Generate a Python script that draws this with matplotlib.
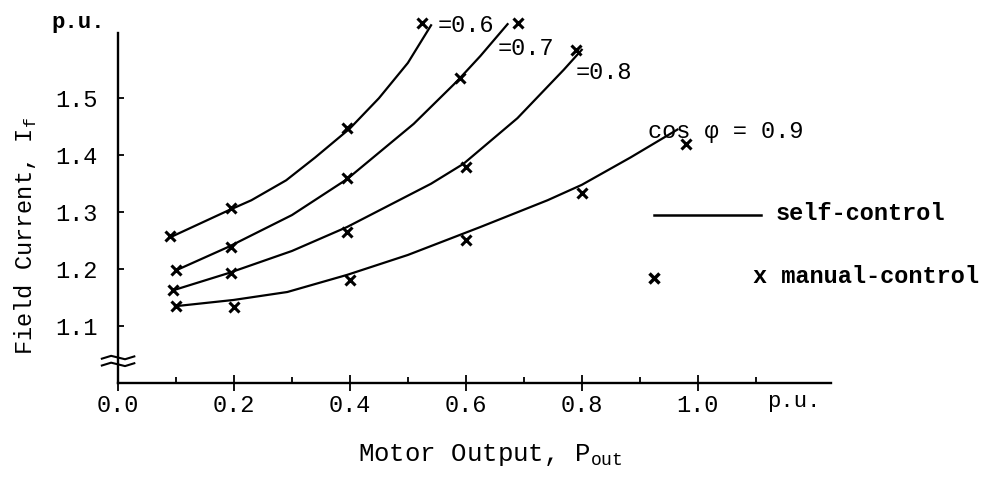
import matplotlib.pyplot as plt

# power factor labels
pf_labels = ["=0.6", "=0.7", "=0.8", "cos \u03c6 = 0.9"]
pf_label_x = [0.551, 0.655, 0.79, 0.915]
pf_label_y = [1.628, 1.588, 1.546, 1.442]

# self-control curves
self_x_06 = [0.09, 0.19, 0.23, 0.29, 0.34, 0.40, 0.45, 0.50, 0.54]
self_y_06 = [1.256, 1.303, 1.321, 1.356, 1.396, 1.447, 1.50, 1.562, 1.628]
self_x_07 = [0.10, 0.19, 0.30, 0.395, 0.51, 0.585, 0.625, 0.672]
self_y_07 = [1.198, 1.239, 1.295, 1.358, 1.455, 1.53, 1.574, 1.63]
self_x_08 = [0.095, 0.19, 0.30, 0.395, 0.54, 0.596, 0.689, 0.769, 0.80]
self_y_08 = [1.163, 1.193, 1.232, 1.274, 1.350, 1.385, 1.465, 1.55, 1.585]
self_x_09 = [0.098, 0.199, 0.292, 0.395, 0.50, 0.625, 0.741, 0.80, 0.884, 0.965]
self_y_09 = [1.135, 1.146, 1.16, 1.19, 1.225, 1.274, 1.321, 1.348, 1.396, 1.445]

# manual-control measurements
man_x_06 = [0.09, 0.195, 0.395, 0.525]
man_y_06 = [1.258, 1.307, 1.447, 1.632]
man_x_07 = [0.10, 0.195, 0.395, 0.59, 0.69]
man_y_07 = [1.198, 1.239, 1.36, 1.535, 1.632]
man_x_08 = [0.095, 0.195, 0.395, 0.60, 0.79]
man_y_08 = [1.163, 1.193, 1.265, 1.379, 1.584]
man_x_09 = [0.10, 0.20, 0.40, 0.60, 0.80, 0.98]
man_y_09 = [1.135, 1.133, 1.181, 1.251, 1.333, 1.42]

x_ticks = [0.0, 0.2, 0.4, 0.6, 0.8, 1.0]
y_ticks = [1.1, 1.2, 1.3, 1.4, 1.5]

plt.rcParams['font.family'] = ['Liberation Mono', 'DejaVu Sans Mono']

fig = plt.figure(figsize=(9.84, 4.82), dpi=100)
ax = fig.add_axes([0.12, 0.205, 0.7245, 0.726])

curves = [(self_x_06, self_y_06), (self_x_07, self_y_07),
          (self_x_08, self_y_08), (self_x_09, self_y_09)]
manual = [(man_x_06, man_y_06), (man_x_07, man_y_07),
          (man_x_08, man_y_08), (man_x_09, man_y_09)]

for (cx, cy), (mx, my) in zip(curves, manual):
    ax.plot(cx, cy, color='black', lw=1.6, clip_on=False)
    ax.plot(mx, my, ls='none', marker='x', ms=7, mew=2.2, color='black', clip_on=False)

for lab, lx, ly in zip(pf_labels, pf_label_x, pf_label_y):
    ax.text(lx, ly, lab, fontsize=17, ha='left', va='center')

ax.set_xlim(0, 1.23)
ax.set_ylim(1.0, 1.614)
for s in ['top', 'right']:
    ax.spines[s].set_visible(False)
for s in ['left', 'bottom']:
    ax.spines[s].set_linewidth(1.7)

ax.set_xticks(x_ticks)
ax.set_xticklabels([f"{v:.1f}" for v in x_ticks], fontsize=17)
ax.set_xticks([0.1, 0.3, 0.5, 0.7, 0.9, 1.1], minor=True)
ax.tick_params(axis='x', which='major', direction='inout', length=11, width=1.3, pad=2)
ax.tick_params(axis='x', which='minor', direction='in', length=4, width=1.3)
ax.set_yticks(y_ticks)
ax.set_yticklabels([f"{v:.1f}" for v in y_ticks], fontsize=17)
ax.tick_params(axis='y', direction='in', length=4, width=1.3, pad=15)

# axis break on the y axis
for dy in (1.045, 1.033):
    ax.plot([-0.028, -0.012, 0.0, 0.012, 0.028], [dy - 0.002, dy + 0.003, dy, dy - 0.003, dy + 0.002],
            color='black', lw=1.5, clip_on=False)

ax.text(-0.022, 1.633, "p.u.", fontsize=16, ha='right', va='center', fontweight='bold')
ax.text(1.12, 0.968, "p.u.", fontsize=16, ha='left', va='center')

# legend drawn by hand
ax.plot([0.924, 1.109], [1.295, 1.295], color='black', lw=1.8, clip_on=False)
ax.text(1.135, 1.297, "self-control", fontsize=17, fontweight='bold', ha='left', va='center')
ax.plot([0.924], [1.184], ls='none', marker='x', ms=7, mew=2.5, color='black', clip_on=False)
ax.text(1.095, 1.187, "x manual-control", fontsize=17, fontweight='bold', ha='left', va='center')

fig.text(0.026, 0.51, "Field Current, I$_\\mathregular{f}$", rotation=90, fontsize=17,
         ha='center', va='center')
fig.text(0.498, 0.055, "Motor Output, P$_\\mathregular{out}$", fontsize=18.5, ha='center', va='center')

fig.savefig('out.png', dpi=100)
